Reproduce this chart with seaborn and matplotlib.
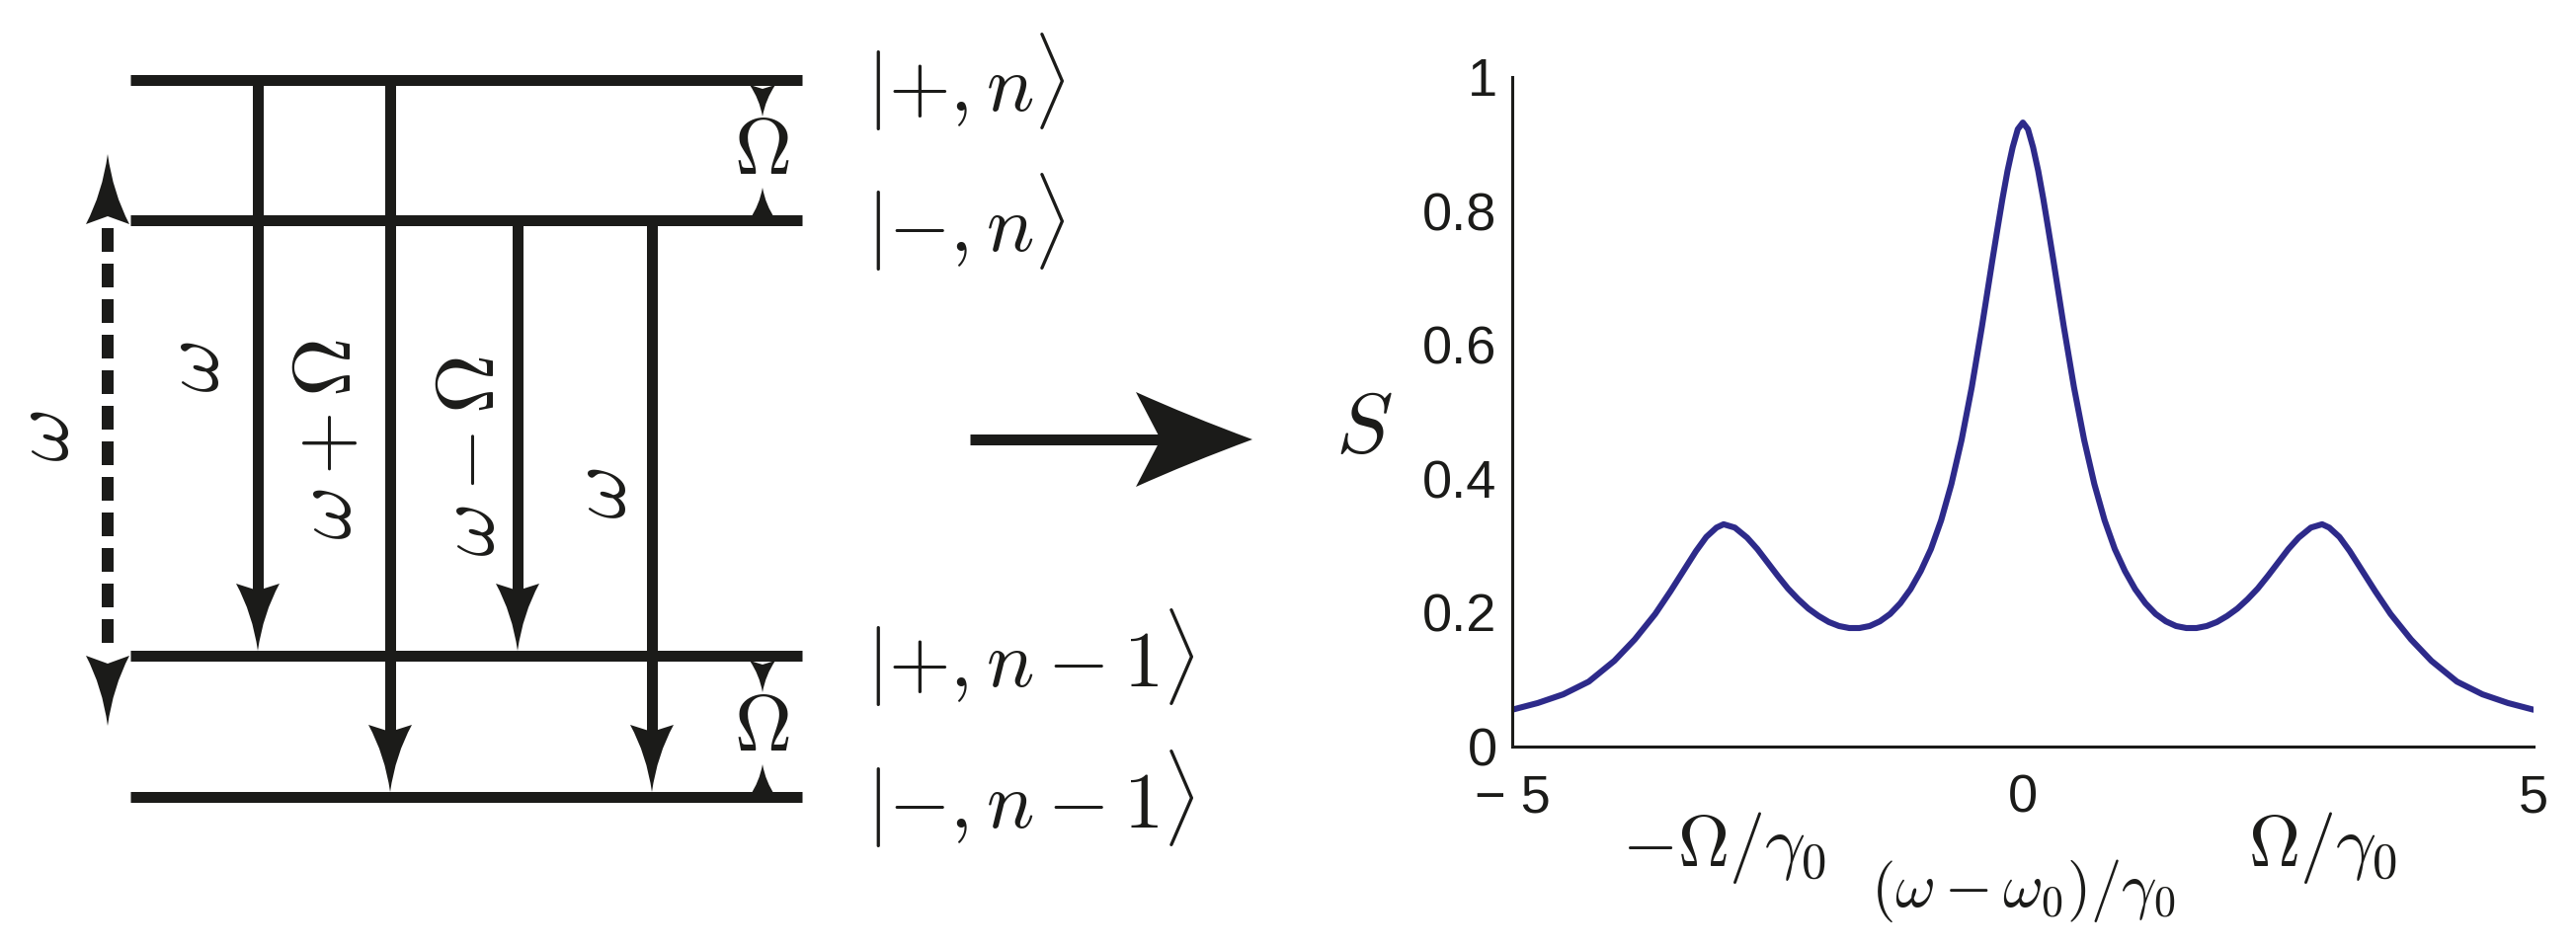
import matplotlib
matplotlib.use("Agg")
import matplotlib.pyplot as plt
from matplotlib.path import Path
from matplotlib.patches import PathPatch
import seaborn as sns

# Mollow-type spectrum S against (w - w0)/gamma0
detuning = [-5.0, -4.75, -4.5, -4.25, -4.0, -3.8, -3.6, -3.45, -3.3, -3.2,
            -3.1, -3.0, -2.93, -2.82, -2.7, -2.6, -2.5, -2.4, -2.3, -2.2,
            -2.1, -2.0, -1.9, -1.8, -1.7, -1.6, -1.5, -1.4, -1.3, -1.2,
            -1.1, -1.0, -0.9, -0.8, -0.7, -0.6, -0.5, -0.4, -0.3, -0.25,
            -0.2, -0.15, -0.1, -0.05, 0.0,
            0.05, 0.1, 0.15, 0.2, 0.25, 0.3, 0.4, 0.5, 0.6, 0.7,
            0.8, 0.9, 1.0, 1.1, 1.2, 1.3, 1.4, 1.5, 1.6, 1.7,
            1.8, 1.9, 2.0, 2.1, 2.2, 2.3, 2.4, 2.5, 2.6, 2.7,
            2.82, 2.93, 3.0, 3.1, 3.2, 3.3, 3.45, 3.6, 3.8, 4.0,
            4.25, 4.5, 4.75, 5.0]
spectrum = [0.055, 0.065, 0.078, 0.097, 0.128, 0.160, 0.198, 0.232, 0.268, 0.292,
            0.313, 0.327, 0.332, 0.327, 0.312, 0.295, 0.275, 0.255, 0.236, 0.220,
            0.206, 0.195, 0.186, 0.180, 0.177, 0.177, 0.180, 0.187, 0.198, 0.214,
            0.235, 0.262, 0.295, 0.338, 0.392, 0.458, 0.537, 0.628, 0.725, 0.772,
            0.818, 0.860, 0.895, 0.922, 0.932,
            0.922, 0.895, 0.860, 0.818, 0.772, 0.725, 0.628, 0.537, 0.458, 0.392,
            0.338, 0.295, 0.262, 0.235, 0.214, 0.198, 0.187, 0.180, 0.177, 0.177,
            0.180, 0.186, 0.195, 0.206, 0.220, 0.236, 0.255, 0.275, 0.295, 0.312,
            0.327, 0.332, 0.327, 0.313, 0.292, 0.268, 0.232, 0.198, 0.160, 0.128,
            0.097, 0.078, 0.065, 0.055]

ytick_vals = [0, 0.2, 0.4, 0.6, 0.8, 1]
ytick_labels = ["0", "0.2", "0.4", "0.6", "0.8", "1"]
xtick_vals = [-5, 0, 5]
xtick_labels = ["\u2212 5", "0", "5"]
sideband_pos = [-2.93, 2.93]
sideband_labels = [r"$-\Omega/\gamma_0$", r"$\Omega/\gamma_0$"]

# dressed-state ladder (drawn in figure pixels, y pointing down)
level_y = [81, 223, 664, 807]
level_kets = [r"$|{+},n\rangle$", r"$|{-},n\rangle$",
              r"$|{+},n-1\rangle$", r"$|{-},n-1\rangle$"]
trans_x = [261, 395, 524, 660]
trans_from = [0, 0, 1, 1]
trans_to = [2, 3, 2, 3]
trans_labels = [r"$\omega$", r"$\omega+\Omega$", r"$\omega-\Omega$", r"$\omega$"]

INK = "#1b1b19"
BLUE = "#2d2a8a"


def head(ax, tip, d, length, width, notch, bow=0.12):
    """Concave arrow head, tip at `tip`, pointing along unit vector d."""
    tx, ty = tip
    dx, dy = d
    px, py = -dy, dx
    def pt(u, v):
        return (tx - u * dx + v * px, ty - u * dy + v * py)
    verts = [pt(0, 0), pt(0.55 * length, bow * width), pt(length, width / 2),
             pt(length - notch, 0), pt(length, -width / 2),
             pt(0.55 * length, -bow * width), pt(0, 0), pt(0, 0)]
    codes = [Path.MOVETO, Path.CURVE3, Path.CURVE3, Path.LINETO, Path.LINETO,
             Path.CURVE3, Path.CURVE3, Path.CLOSEPOLY]
    ax.add_patch(PathPatch(Path(verts, codes), fc=INK, ec="none", zorder=3))


sns.set_style("white")
plt.rcParams["font.family"] = ["Liberation Sans", "DejaVu Sans"]
plt.rcParams["mathtext.fontset"] = "cm"

fig = plt.figure(figsize=(26.08, 9.6), dpi=100)

# ---- left: level diagram
dg = fig.add_axes([0, 0, 1, 1])
dg.set_xlim(0, 2608)
dg.set_ylim(960, 0)
dg.axis("off")
lw_px = 72 / 100  # points per pixel

for y, ket in zip(level_y, level_kets):
    dg.plot([132, 812], [y, y], color=INK, lw=11 * lw_px, solid_capstyle="butt")
    dg.text(877, y + 2, ket, fontsize=58, ha="left", va="center", color=INK)

for x, i, j in zip(trans_x, trans_from, trans_to):
    tip = level_y[j] - 5
    dg.plot([x, x], [level_y[i], tip - 60], color=INK, lw=11 * lw_px,
            solid_capstyle="butt")
    head(dg, (x, tip), (0, 1), 68, 44, 7)

label_xy = [(199, 372), (333, 445), (478, 462), (611, 500)]
for (lx, ly), lab in zip(label_xy, trans_labels):
    dg.text(lx, ly, lab, fontsize=60, rotation=90, ha="center", va="center",
            color=INK)

# dashed photon energy arrow
dg.plot([109, 109], [231, 662], color=INK, lw=12 * lw_px, dashes=(2, 1),
        dash_capstyle="butt")
head(dg, (109, 156), (0, -1), 71, 44, 8)
head(dg, (109, 735), (0, 1), 71, 44, 8)
dg.text(47, 442, r"$\omega$", fontsize=60, rotation=90, ha="center",
        va="center", color=INK)

# Rabi splitting markers
for top, bot in [(level_y[0], level_y[1]), (level_y[2], level_y[3])]:
    head(dg, (772, top + 37), (0, 1), 32, 26, 4)
    head(dg, (772, bot - 33), (0, -1), 32, 26, 4)
    dg.text(771, (top + bot) / 2 + 3, r"$\Omega$", fontsize=58, ha="center",
            va="center", color=INK)

# big arrow to the spectrum
dg.plot([982, 1180], [445, 445], color=INK, lw=11 * lw_px, solid_capstyle="butt")
head(dg, (1268, 445), (1, 0), 118, 96, 25, bow=0.25)

# ---- right: spectrum
ax = fig.add_axes([1531 / 2608, (960 - 756) / 960, 1034 / 2608, 678 / 960])
ax.patch.set_alpha(0)
sns.lineplot(x=detuning, y=spectrum, ax=ax, color=BLUE, linewidth=4.4)
ax.set_xlim(-5, 5)
ax.set_ylim(0, 1)
sns.despine(ax=ax)
for s in ["left", "bottom"]:
    ax.spines[s].set_linewidth(2.2)
    ax.spines[s].set_color(INK)

ax.set_yticks(ytick_vals)
ax.set_yticklabels(ytick_labels)
ax.set_xticks(xtick_vals)
ax.set_xticklabels(xtick_labels)
ax.set_xticks(sideband_pos, minor=True)
ax.set_xticklabels(sideband_labels, minor=True)
ax.tick_params(which="both", direction="in", length=7.2, width=2.2, color=INK,
               labelcolor=INK)
ax.tick_params(axis="both", which="major", labelsize=39)
ax.tick_params(axis="y", pad=11)
ax.tick_params(axis="x", which="major", pad=20)
ax.tick_params(axis="x", which="minor", pad=46, labelsize=52)

ax.set_xlabel(r"$(\omega-\omega_0)/\gamma_0$", fontsize=45, color=INK)
ax.xaxis.set_label_coords(0.5, -0.165)
ax.set_ylabel(r"$S$", fontsize=62, rotation=0, ha="center", va="center",
              color=INK)
ax.yaxis.set_label_coords(-0.145, 0.472)

fig.savefig("out.png", dpi=100)
